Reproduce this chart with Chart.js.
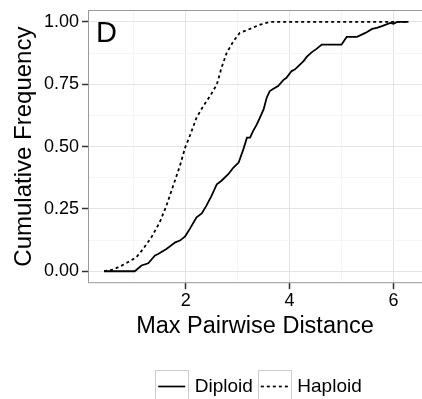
<!DOCTYPE html>
<html lang="en">
<head>
<meta charset="UTF-8">
<title>Cumulative Frequency - D</title>
<script src="https://cdn.jsdelivr.net/npm/chart.js"></script>
<style>
  html, body {
    margin: 0;
    padding: 0;
    background: #fff;
  }
  #wrap {
    width: 422px;
    height: 399px;
  }
</style>
</head>
<body>
<div id="wrap"><canvas id="ecdf-chart"></canvas></div>

<script>
  // values
  const seriesNames = ['Diploid', 'Haploid'];

  const diploidX = [0.43, 1.02, 1.15, 1.28, 1.41, 1.47, 1.63, 1.80, 1.89, 1.99, 2.08, 2.21, 2.31, 2.40, 2.50, 2.60,
    2.69, 2.82, 2.92, 3.02, 3.11, 3.18, 3.24, 3.30, 3.37, 3.43, 3.50, 3.56, 3.62, 3.69, 3.78, 3.88, 3.94, 4.04,
    4.10, 4.20, 4.27, 4.33, 4.43, 4.52, 4.62, 5.00, 5.10, 5.30, 5.46, 5.59, 5.68, 5.78, 5.94, 6.00, 6.07, 6.29];
  const diploidY = [0, 0, 0.023, 0.032, 0.063, 0.069, 0.089, 0.116, 0.123, 0.14, 0.17, 0.216, 0.232, 0.263, 0.303, 0.349,
    0.363, 0.389, 0.416, 0.436, 0.489, 0.536, 0.536, 0.563, 0.589, 0.616, 0.649, 0.696, 0.723, 0.732, 0.743, 0.767, 0.776, 0.803,
    0.809, 0.829, 0.843, 0.86, 0.879, 0.892, 0.909, 0.909, 0.94, 0.94, 0.956, 0.972, 0.976, 0.983, 0.996, 0.993, 1, 1];

  const haploidX = [0.43, 0.61, 0.83, 1.05, 1.18, 1.34, 1.50, 1.63, 1.76, 1.89, 1.99, 2.08, 2.21, 2.34, 2.47, 2.60,
    2.69, 2.79, 2.92, 3.04, 3.20, 3.43, 3.62, 6.29];
  const haploidY = [0, 0.007, 0.029, 0.056, 0.089, 0.136, 0.196, 0.263, 0.343, 0.423, 0.496, 0.543, 0.616, 0.663, 0.703, 0.749,
    0.816, 0.876, 0.923, 0.956, 0.969, 0.989, 1, 1];

  const xTickValues = [1, 2, 3, 4, 5, 6];
  const yTickValues = [0, 0.125, 0.25, 0.375, 0.5, 0.625, 0.75, 0.875, 1];

  const panelLabel = 'D';
  const xTitle = 'Max Pairwise Distance';
  const yTitle = 'Cumulative Frequency';

  const toPoints = (xs, ys) => xs.map((x, i) => ({ x: x, y: ys[i] }));

  const MAJOR_GRID = '#e4e4e4';
  const MINOR_GRID = '#f5f5f5';
  const TICK_MARK = '#333333';
  const FONT = 'Liberation Sans, Arial, sans-serif';

  const isMajorX = v => v % 2 === 0;
  const isMajorY = v => Math.abs(v * 4 - Math.round(v * 4)) < 1e-9;

  // panel border + "D" tag + legend key boxes
  const panelDecor = {
    id: 'panelDecor',
    afterLayout(chart) {
      // ggplot centres the legend a little right of the panel centre
      if (chart.legend) {
        chart.legend.left += 5;
        chart.legend.right += 5;
      }
    },
    afterDatasetsDraw(chart) {
      const { ctx, chartArea: a } = chart;
      ctx.save();
      ctx.strokeStyle = '#999999';
      ctx.lineWidth = 1;
      ctx.strokeRect(a.left + 0.5, a.top + 0.5, a.right - a.left, a.bottom - a.top - 1);
      ctx.fillStyle = '#000';
      ctx.font = '29px ' + FONT;
      ctx.textBaseline = 'top';
      ctx.fillText(panelLabel, a.left + 8, a.top + 9);
      ctx.restore();
    },
    afterDraw(chart) {
      const { ctx, legend } = chart;
      if (!legend || !legend.legendHitBoxes) return;
      ctx.save();
      ctx.strokeStyle = '#cccccc';
      ctx.lineWidth = 1;
      legend.legendHitBoxes.forEach(h => {
        const cy = h.top + h.height / 2;
        ctx.strokeRect(Math.round(h.left - 3) + 0.5, Math.round(cy - 16.5) + 0.5, 33, 33);
      });
      ctx.restore();
    }
  };

  const ctx = document.getElementById('ecdf-chart').getContext('2d');
  new Chart(ctx, {
    type: 'line',
    data: {
      datasets: [{
        label: seriesNames[0],
        data: toPoints(diploidX, diploidY),
        borderColor: '#000',
        borderWidth: 1.8,
        pointRadius: 0,
        tension: 0,
        fill: false
      }, {
        label: seriesNames[1],
        data: toPoints(haploidX, haploidY),
        borderColor: '#000',
        borderWidth: 1.8,
        borderDash: [3, 3],
        pointRadius: 0,
        tension: 0,
        fill: false
      }]
    },
    options: {
      responsive: true,
      maintainAspectRatio: false,
      animation: false,
      layout: { padding: { left: 10, right: 0, top: 10, bottom: -7 } },
      plugins: {
        tooltip: { enabled: false },
        legend: {
          position: 'bottom',
          fullSize: false,
          labels: {
            usePointStyle: true,
            pointStyle: 'line',
            pointStyleWidth: 27,
            padding: 8,
            color: '#000',
            font: { family: FONT, size: 19 },
            generateLabels: chart => chart.data.datasets.map((ds, i) => ({
              text: ds.label,
              datasetIndex: i,
              pointStyle: 'line',
              strokeStyle: ds.borderColor,
              fillStyle: ds.borderColor,
              lineWidth: 1.7,
              lineDash: ds.borderDash || [],
              fontColor: '#000',
              hidden: false
            }))
          }
        }
      },
      scales: {
        x: {
          type: 'linear',
          min: 0.12,
          max: 6.55,
          afterBuildTicks: scale => { scale.ticks = xTickValues.map(v => ({ value: v })); },
          ticks: {
            color: '#000',
            padding: 1,
            maxRotation: 0,
            font: { family: FONT, size: 18 },
            callback: v => isMajorX(v) ? String(v) : ''
          },
          grid: {
            color: c => c.tick && isMajorX(c.tick.value) ? MAJOR_GRID : MINOR_GRID,
            tickColor: c => c.tick && isMajorX(c.tick.value) ? TICK_MARK : 'rgba(0,0,0,0)',
            tickLength: 6,
            tickWidth: 1.5
          },
          border: { display: false },
          title: {
            display: true,
            text: xTitle,
            color: '#000',
            padding: { top: 0, bottom: 28 },
            font: { family: FONT, size: 23.5 }
          }
        },
        y: {
          min: -0.048,
          max: 1.048,
          afterBuildTicks: scale => { scale.ticks = yTickValues.map(v => ({ value: v })); },
          afterFit: scale => {
            scale.width = 78;
            scale.paddingTop = 0;
            scale.paddingBottom = 0;
          },
          ticks: {
            color: '#000',
            padding: 3,
            font: { family: FONT, size: 18 },
            callback: v => isMajorY(v) ? v.toFixed(2) : ''
          },
          grid: {
            color: c => c.tick && isMajorY(c.tick.value) ? MAJOR_GRID : MINOR_GRID,
            tickColor: c => c.tick && isMajorY(c.tick.value) ? TICK_MARK : 'rgba(0,0,0,0)',
            tickLength: 6,
            tickWidth: 1.5
          },
          border: { display: false },
          title: {
            display: true,
            text: yTitle,
            color: '#000',
            padding: { top: 0, bottom: 0 },
            font: { family: FONT, size: 24 }
          }
        }
      }
    },
    plugins: [panelDecor]
  });
</script>
</body>
</html>
